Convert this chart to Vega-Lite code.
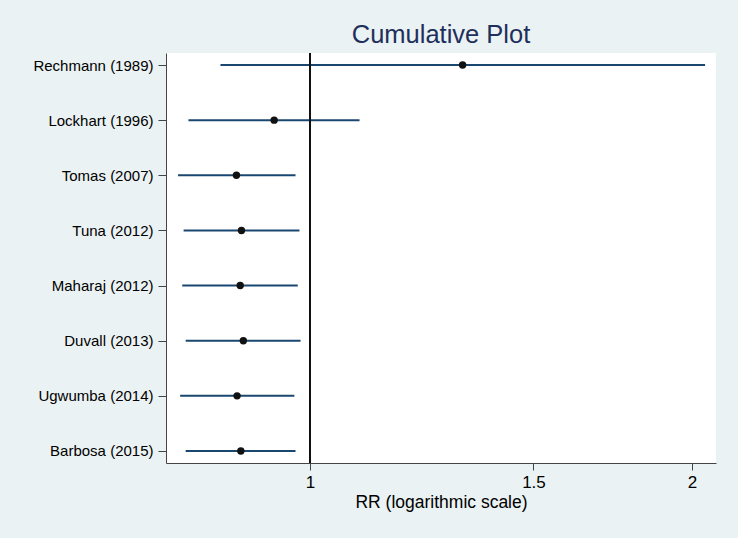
{
  "$schema": "https://vega.github.io/schema/vega-lite/v6.json",
  "width": 550,
  "height": 410,
  "autosize": {"type": "none"},
  "padding": {"left": 166, "top": 53, "right": 22, "bottom": 75},
  "background": "#EAF2F3",
  "view": {"fill": "white", "stroke": null},
  "title": {"text": "Cumulative Plot", "font": "Liberation Sans", "fontSize": 25.5, "fontWeight": "normal", "color": "#1f2f5c", "anchor": "middle", "offset": 4},
  "config": {
    "font": "Liberation Sans",
    "axis": {"labelFont": "Liberation Sans", "titleFont": "Liberation Sans", "labelColor": "#000000", "titleColor": "#000000", "domainColor": "#444444", "tickColor": "#444444", "grid": false, "titleFontWeight": "normal"}
  },
  "data": {
    "values": [
      {"study": "Rechmann (1989)", "rr": 1.319, "lower": 0.850, "upper": 2.048},
      {"study": "Lockhart (1996)", "rr": 0.937, "lower": 0.802, "upper": 1.094},
      {"study": "Tomas (2007)", "rr": 0.875, "lower": 0.787, "upper": 0.974},
      {"study": "Tuna (2012)", "rr": 0.883, "lower": 0.795, "upper": 0.981},
      {"study": "Maharaj (2012)", "rr": 0.881, "lower": 0.793, "upper": 0.978},
      {"study": "Duvall (2013)", "rr": 0.886, "lower": 0.798, "upper": 0.983},
      {"study": "Ugwumba (2014)", "rr": 0.876, "lower": 0.790, "upper": 0.972},
      {"study": "Barbosa (2015)", "rr": 0.882, "lower": 0.798, "upper": 0.974}
    ]
  },
  "encoding": {
    "y": {
      "field": "study", "type": "nominal", "sort": null,
      "scale": {"type": "point", "padding": 0.218},
      "axis": {"title": null, "labelFontSize": 15, "tickSize": 8, "labelPadding": 5, "domainWidth": 1}
    }
  },
  "layer": [
    {
      "mark": {"type": "rule", "color": "#1a476f", "strokeWidth": 2},
      "encoding": {
        "x": {"field": "lower", "type": "quantitative",
          "scale": {"type": "log", "domain": [0.770, 2.089], "nice": false, "zero": false},
          "axis": {"title": "RR (logarithmic scale)", "values": [1, 1.5, 2], "format": "~g", "labelFontSize": 17, "titleFontSize": 17.5, "tickSize": 7, "labelPadding": 4, "titlePadding": 3}},
        "x2": {"field": "upper"}
      }
    },
    {
      "mark": {"type": "rule", "color": "#111111", "strokeWidth": 1.5},
      "encoding": {"x": {"datum": 1, "type": "quantitative"}, "y": null}
    },
    {
      "mark": {"type": "circle", "color": "#111111", "opacity": 1, "size": 55},
      "encoding": {"x": {"field": "rr", "type": "quantitative"}}
    }
  ]
}
